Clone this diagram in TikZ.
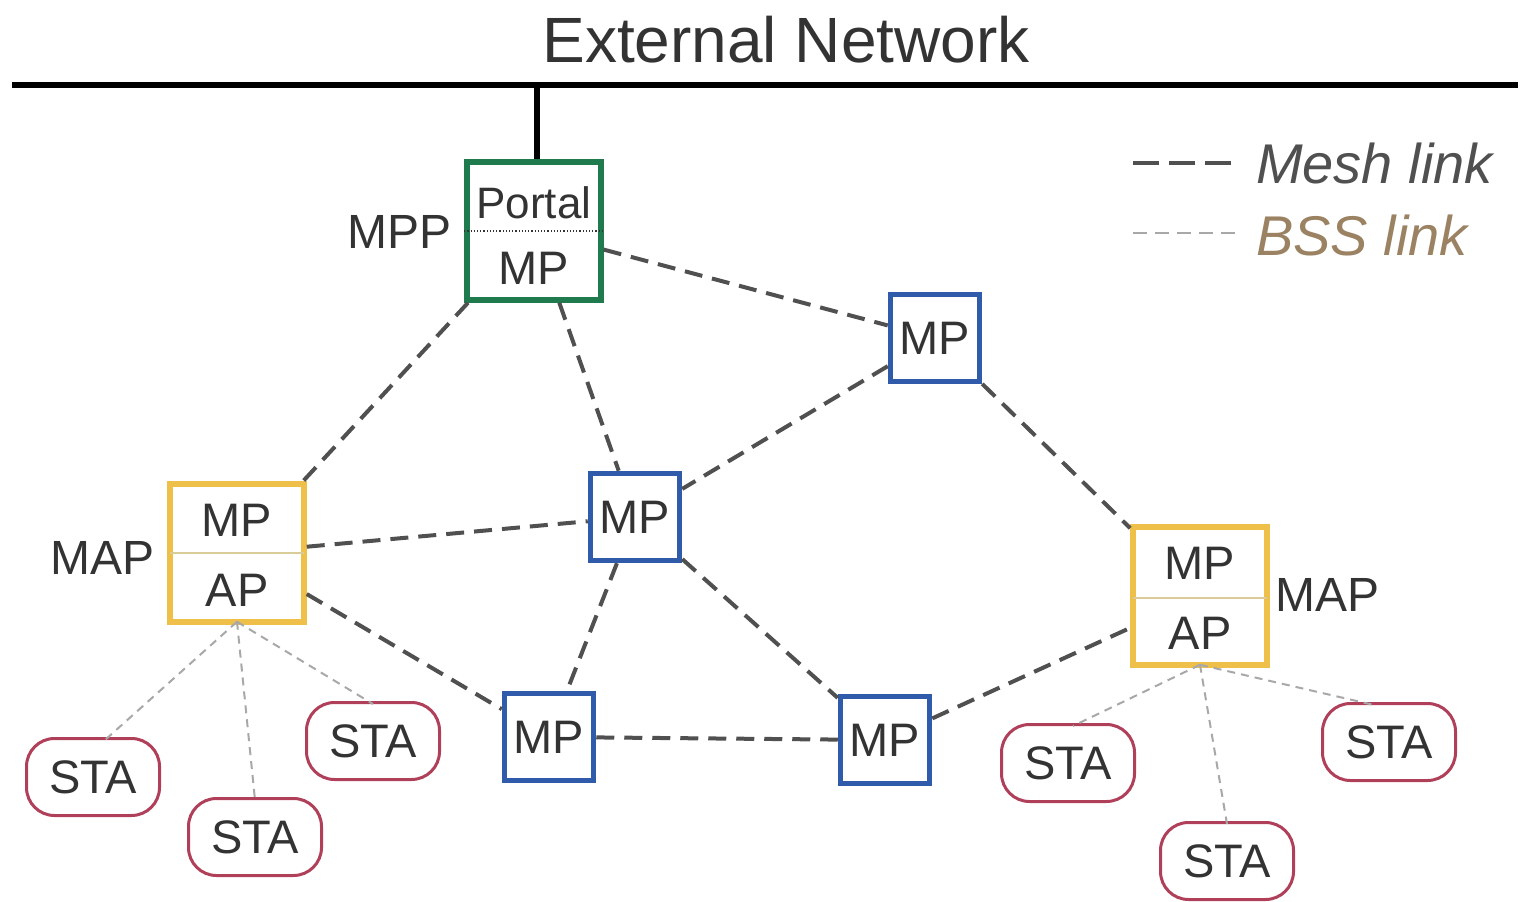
\documentclass[tikz,border=0pt]{standalone}
\usepackage{fontspec}
\setmainfont{Liberation Sans}
\definecolor{txt}{HTML}{333333}
\definecolor{meshc}{HTML}{505050}
\definecolor{bssc}{HTML}{A8A8A8}
\definecolor{grn}{HTML}{1F7A4D}
\definecolor{blu}{HTML}{2F5BAA}
\definecolor{yel}{HTML}{EEC04A}
\definecolor{sta}{HTML}{B0405A}
\definecolor{bssTxt}{HTML}{9A8262}
\definecolor{divy}{HTML}{D9CC98}
\begin{document}
\begin{tikzpicture}[x=1pt,y=-1pt,
  boxfont/.style={font=\fontsize{47}{50}\selectfont, text=txt},
  mpbox/.style={draw=blu, line width=5.5pt, fill=white, minimum width=89pt, minimum height=87pt, inner sep=0pt, boxfont},
  bigbox/.style={line width=5.5pt, fill=white, minimum width=134pt, minimum height=138pt, inner sep=0pt},
  stabox/.style={draw=sta, line width=3pt, rounded corners=28pt, fill=white, minimum width=133pt, minimum height=77pt, inner sep=0pt, boxfont},
  lbl/.style={font=\fontsize{48}{50}\selectfont, text=txt, inner sep=0pt},
  mesh/.style={draw=meshc, line width=4pt, dash pattern=on 18pt off 10pt},
  bss/.style={draw=bssc, line width=2pt, dash pattern=on 8pt off 6pt}]
\useasboundingbox (0,0) rectangle (1521,902);
% external network
\node[font=\fontsize{64}{66}\selectfont, text=txt, inner sep=0pt] (ext) at (786,40) {External Network};
\coordinate (barL) at (12,85);
\coordinate (barR) at (1518,85);
\draw[line width=6pt, black] (barL) -- (barR);
% portal
\node[bigbox, draw=grn] (portal) at (534,231) {};
\coordinate (tap) at (537,85);
\draw[line width=6pt, black] (tap) -- (portal.north -| tap);
\draw[dotted, line width=1.2pt, txt] (portal.west) -- (portal.east);
\node[font=\fontsize{44}{46}\selectfont, text=txt, inner sep=0pt] (portalT) at (534,203) {Portal};
\node[boxfont, inner sep=0pt] (portalMP) at (534,268) {MP};
\node[lbl, anchor=east] (mpp) at (452,232) {MPP};
% MP boxes
\node[mpbox] (mptr) at (935,338) {MP};
\node[mpbox] (mpc) at (635,517) {MP};
\node[mpbox] (mpbl) at (549,737) {MP};
\node[mpbox] (mpbr) at (885,740) {MP};
% MAP left
\node[bigbox, draw=yel] (mapl) at (237,553) {};
\draw[divy, line width=1.5pt] ([xshift=3pt]mapl.west) -- ([xshift=-3pt]mapl.east);
\node[boxfont, inner sep=0pt] (maplMP) at (237,520) {MP};
\node[boxfont, inner sep=0pt] (maplAP) at (237,590) {AP};
\node[lbl, anchor=east] (maplLbl) at (155,558) {MAP};
% MAP right
\node[bigbox, draw=yel] (mapr) at (1200,596) {};
\draw[divy, line width=1.5pt] ([xshift=3pt,yshift=-2pt]mapr.west) -- ([xshift=-3pt,yshift=-2pt]mapr.east);
\node[boxfont, inner sep=0pt] (maprMP) at (1200,563) {MP};
\node[boxfont, inner sep=0pt] (maprAP) at (1200,633) {AP};
\node[lbl, anchor=west] (maprLbl) at (1275,595) {MAP};
% STAs
\node[stabox] (sta1) at (93,777) {STA};
\node[stabox] (sta2) at (255,837) {STA};
\node[stabox] (sta3) at (373,741) {STA};
\node[stabox] (sta4) at (1068,763) {STA};
\node[stabox] (sta5) at (1227,861) {STA};
\node[stabox] (sta6) at (1389,742) {STA};
% mesh links
\draw[mesh] (portal) -- (mptr);
\draw[mesh] (portal) -- (mapl);
\draw[mesh] (portal) -- (mpc);
\draw[mesh] (mptr) -- (mpc);
\draw[mesh] (mptr) -- (mapr);
\draw[mesh] (mapl) -- (mpc);
\draw[mesh] (mapl) -- (mpbl);
\draw[mesh] (mpc) -- (mpbl);
\draw[mesh] (mpc) -- (mpbr);
\draw[mesh] (mpbl) -- (mpbr);
\draw[mesh] (mpbr) -- (mapr);
% BSS links
\draw[bss] ([yshift=3pt]mapl.south) -- ([xshift=12pt,yshift=-3pt]sta1.north);
\draw[bss] ([yshift=3pt]mapl.south) -- ([yshift=-3pt]sta2.north);
\draw[bss] ([yshift=3pt]mapl.south) -- ([yshift=-3pt]sta3.north);
\draw[bss] ([yshift=3pt]mapr.south) -- ([xshift=5pt,yshift=-3pt]sta4.north);
\draw[bss] ([yshift=3pt]mapr.south) -- ([yshift=-3pt]sta5.north);
\draw[bss] ([yshift=3pt]mapr.south) -- ([xshift=-15pt,yshift=-3pt]sta6.north);
% legend
\coordinate (lmA) at (1133,163);
\coordinate (lmB) at (1232,163);
\draw[draw=meshc, line width=4pt, dash pattern=on 26pt off 10pt] (lmA) -- (lmB);
\node[font=\fontsize{56}{58}\selectfont\itshape, text=meshc, anchor=west, inner sep=0pt] (lgMesh) at (1256,163) {Mesh link};
\coordinate (lbA) at (1133,233);
\coordinate (lbB) at (1240,233);
\draw[draw=bssc, line width=2pt, dash pattern=on 14pt off 8pt] (lbA) -- (lbB);
\node[font=\fontsize{56}{58}\selectfont\itshape, text=bssTxt, anchor=west, inner sep=0pt] (lgBss) at (1256,235) {BSS link};
\end{tikzpicture}
\end{document}
